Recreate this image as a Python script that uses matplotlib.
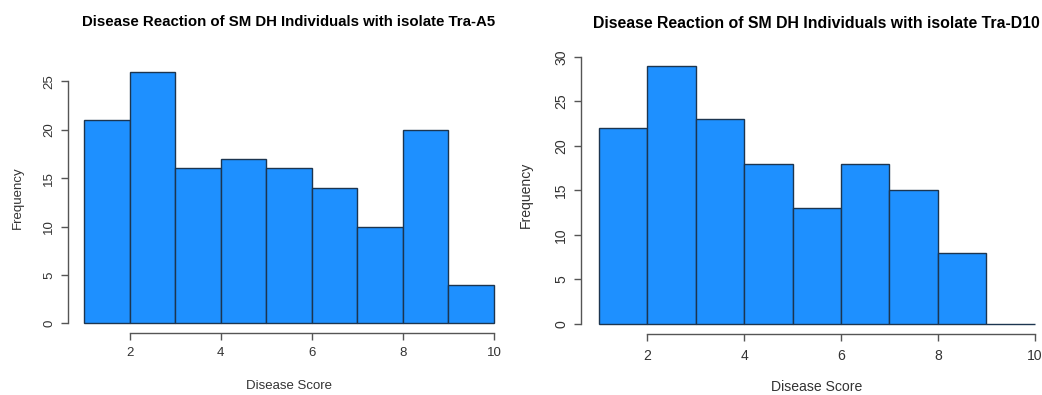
import numpy as np
import matplotlib
matplotlib.use('Agg')
import matplotlib.pyplot as plt

# Histogram bins (Disease Score) and counts
bin_edges = [1, 2, 3, 4, 5, 6, 7, 8, 9, 10]
counts_a5 = [21, 26, 16, 17, 16, 14, 10, 20, 4]
counts_d10 = [22, 29, 23, 18, 13, 18, 15, 8, 0]

titles = ["Disease Reaction of SM DH Individuals with isolate Tra-A5",
          "Disease Reaction of SM DH Individuals with isolate Tra-D10"]
x_ticks = [2, 4, 6, 8, 10]
y_ticks_a5 = [0, 5, 10, 15, 20, 25]
y_ticks_d10 = [0, 5, 10, 15, 20, 25, 30]

plt.rcParams['font.family'] = ['Liberation Sans', 'DejaVu Sans']

fig = plt.figure(figsize=(10.42, 3.95), dpi=100)

# axes rectangles in figure fractions, R-style 4% padding on data range;
# the right screenshot is a touch larger, hence the scale factor
panels = [
    ([0.0649, 0.156, 0.4249, 0.688], counts_a5, y_ticks_a5, titles[0],
     0.945, -0.171, -0.099, 1.0),
    ([0.558, 0.1537, 0.4518, 0.7056], counts_d10, y_ticks_d10, titles[1],
     0.94, -0.163, -0.103, 1.063),
]

axis_col = '#555555'
text_col = '#333333'

for rect, counts, yticks, title, title_y, xlab_y, ylab_x, sc in panels:
    ax = fig.add_axes(rect)
    edges = np.array(bin_edges[:-1])
    ax.bar(edges, counts, width=1, align='edge', color='#1E90FF',
           edgecolor='#1c3550', linewidth=1.0)

    ymax = max(counts)
    ax.set_xlim(1 - 0.36, 10 + 0.36)
    ax.set_ylim(-0.04 * ymax, ymax * 1.04)

    for s in ['top', 'right']:
        ax.spines[s].set_visible(False)
    ax.spines['left'].set_bounds(yticks[0], yticks[-1])
    ax.spines['bottom'].set_bounds(x_ticks[0], x_ticks[-1])
    for s in ['left', 'bottom']:
        ax.spines[s].set_color(axis_col)
        ax.spines[s].set_linewidth(1.0)

    ax.set_xticks(x_ticks)
    ax.set_yticks(yticks)
    ax.tick_params(axis='both', direction='out', length=5 * sc, width=1.0,
                   color=axis_col, labelcolor=text_col, labelsize=9.5 * sc)
    ax.tick_params(axis='x', pad=5 * sc)
    ax.tick_params(axis='y', pad=4 * sc)
    for lab in ax.get_yticklabels():
        lab.set_rotation(90)
        lab.set_va('center')

    # title centred over the plot region, fixed height in the figure
    cx = rect[0] + rect[2] / 2
    fig.text(cx, title_y, title, fontsize=10.8 * sc, fontweight='bold',
             color='black', ha='center', va='center')
    ax.set_ylabel('Frequency', fontsize=9.5 * sc, color=text_col)
    ax.yaxis.set_label_coords(ylab_x, 0.5)
    ax.set_xlabel('Disease Score', fontsize=9.5 * sc, color=text_col)
    ax.xaxis.set_label_coords(0.5, xlab_y)

fig.savefig('out.png', dpi=100)
